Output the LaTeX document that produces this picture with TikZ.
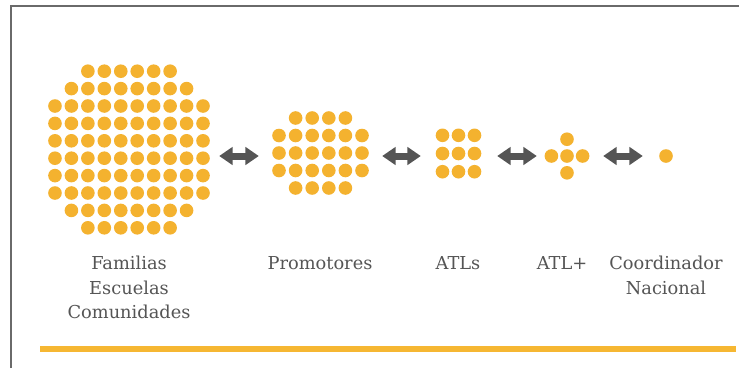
\documentclass[tikz,border=0pt]{standalone}
\usepackage{fontspec}
\setmainfont{DejaVu Serif}
\usetikzlibrary{arrows.meta}
\definecolor{dotc}{HTML}{F4B22F}
\definecolor{barc}{HTML}{F6B732}
\definecolor{arrc}{HTML}{555555}
\definecolor{framec}{HTML}{6A6A6A}
\definecolor{txtc}{HTML}{555555}
\begin{document}
\begin{tikzpicture}[x=1pt,y=-1pt,
  group/.style={draw=none, rectangle, inner sep=0pt, minimum height=10pt},
  dot/.style={fill=dotc},
  fatarrow/.style={draw=arrc, line width=7pt,
    {Triangle[length=13.5pt,width=17.5pt]}-{Triangle[length=13.5pt,width=17.5pt]}},
  lbl/.style={anchor=north, align=center, text=txtc, inner sep=0pt,
    font=\fontsize{17.8}{24.5}\selectfont}]
\useasboundingbox[fill=white] (0,0) rectangle (739,368);
% frame
\draw[framec, line width=2pt] (11.2,368) -- (11.2,6) -- (739,6);
% group nodes (centres on the arrow axis)
\node[group, minimum width=161.6pt] (g1) at (129,156) {};
\node[group, minimum width=96.6pt] (g2) at (320.5,156) {};
\node[group, minimum width=45.6pt] (g3) at (458.5,156) {};
\node[group, minimum width=45.6pt] (g4) at (567,156) {};
\node[group, minimum width=13.6pt] (g5) at (666,156) {};
% big grid
\begin{scope}[shift={(g1.center)}]
\foreach \j/\a/\b in {0/2/7,1/1/8,2/0/9,3/0/9,4/0/9,5/0/9,6/0/9,7/0/9,8/1/8,9/2/7}
  \foreach \i in {\a,...,\b}
    \fill[dot] ({(\i-4.5)*16.45},{(\j-4.5)*17.4-6.5}) circle[radius=6.8pt];
\end{scope}
% promotores
\begin{scope}[shift={(g2.center)}]
\foreach \j/\a/\b in {0/1/4,1/0/5,2/0/5,3/0/5,4/1/4}
  \foreach \i in {\a,...,\b}
    \fill[dot] ({(\i-2.5)*16.6},{(\j-2)*17.5-3}) circle[radius=6.8pt];
\end{scope}
% ATLs
\begin{scope}[shift={(g3.center)}]
\foreach \j in {0,1,2}
  \foreach \i in {0,1,2}
    \fill[dot] ({(\i-1)*16},{(\j-1)*18.2-2.5}) circle[radius=6.8pt];
\end{scope}
% ATL+
\begin{scope}[shift={(g4.center)}]
\foreach \p in {{(0,-16.8)},{(-15.6,0)},{(0,0)},{(15.6,0)},{(0,16.8)}}
  \fill[dot] \p circle[radius=6.8pt];
\end{scope}
% Coordinador
\fill[dot] (g5.center) circle[radius=6.8pt];
% arrows
\draw[fatarrow, shorten <=9.2pt, shorten >=13.2pt] (g1) -- (g2);
\draw[fatarrow, shorten <=13.2pt, shorten >=14.7pt] (g2) -- (g3);
\draw[fatarrow, shorten <=15.7pt, shorten >=7.2pt] (g3) -- (g4);
\draw[fatarrow, shorten <=13.2pt, shorten >=16.2pt] (g4) -- (g5);
% labels
\node[lbl] (l1) at (129,256) {Familias\\Escuelas\\Comunidades};
\node[lbl] (l2) at (320,256) {Promotores};
\node[lbl] (l3) at (458,256) {ATLs};
\node[lbl] (l4) at (562,256) {ATL+};
\node[lbl] (l5) at (666,256) {Coordinador\\Nacional};
% bottom bar
\fill[barc] (40,346) rectangle (736,352.3);
\end{tikzpicture}
\end{document}
